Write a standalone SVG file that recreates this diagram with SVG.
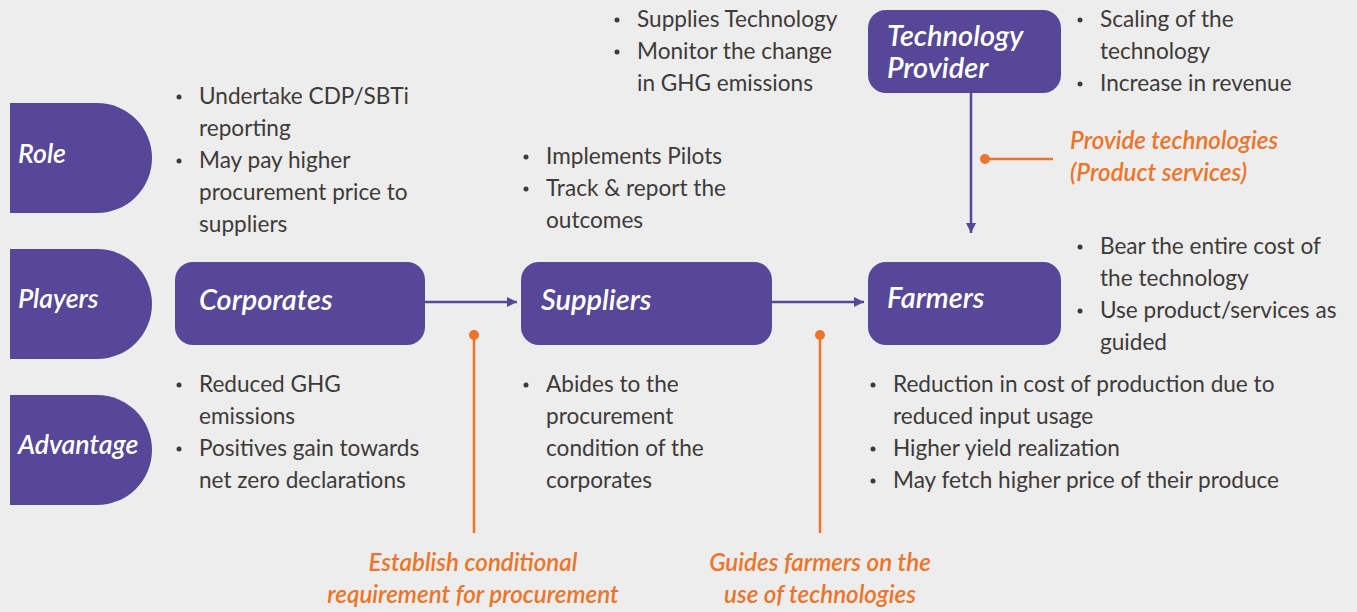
<svg xmlns="http://www.w3.org/2000/svg" width="1357" height="612" viewBox="0 0 1357 612">
<defs>
<style>
.tab{fill:#574798}
.node{fill:#574798}
.lbl{font-family:Lato,"Noto Sans",sans-serif;font-style:italic;font-weight:600;font-size:29px;fill:#ffffff}
.tl{font-family:Lato,"Noto Sans",sans-serif;font-style:italic;font-weight:600;font-size:26.7px;fill:#ffffff}
.tx{font-family:Lato,"Noto Sans",sans-serif;font-size:22.6px;fill:#3e3a39}
.bul{fill:#3e3a39}
.or{font-family:Lato,"Noto Sans",sans-serif;font-style:italic;font-weight:600;font-size:24.2px;fill:#EE7429}
.con{stroke:#574798;stroke-width:2.5;fill:none}
.oline{stroke:#EE7429;stroke-width:2.5;fill:none}
</style>
<marker id="ah" viewBox="0 0 10 10" refX="10" refY="5" markerWidth="4" markerHeight="4" orient="auto" markerUnits="strokeWidth">
<path d="M0,0 L10,5 L0,10 Z" fill="#574798"/>
</marker>
<marker id="dot" viewBox="0 0 10 10" refX="5" refY="5" markerWidth="4" markerHeight="4" markerUnits="strokeWidth">
<circle cx="5" cy="5" r="5" fill="#EE7429"/>
</marker>
</defs>
<rect x="0" y="0" width="1357" height="612" fill="#ECEDEC"/>

<g id="tab-role">
<path class="tab" d="M10,103 H97 A55,55 0 0 1 97,213 H10 Z"/>
<text class="tl" x="18" y="163">Role</text>
</g>
<g id="tab-players">
<path class="tab" d="M10,249 H97 A55,55 0 0 1 97,359 H10 Z"/>
<text class="tl" x="18" y="308">Players</text>
</g>
<g id="tab-advantage">
<path class="tab" d="M10,395 H97 A55,55 0 0 1 97,505 H10 Z"/>
<text class="tl" x="18" y="454">Advantage</text>
</g>

<g id="connectors">
<line class="con" x1="425" y1="302" x2="517" y2="302" marker-end="url(#ah)"/>
<line class="con" x1="772" y1="302" x2="864" y2="302" marker-end="url(#ah)"/>
<line class="con" x1="971" y1="93" x2="971" y2="233" marker-end="url(#ah)"/>
<line class="oline" x1="474" y1="335" x2="474" y2="533" marker-start="url(#dot)"/>
<line class="oline" x1="820" y1="335" x2="820" y2="533" marker-start="url(#dot)"/>
<line class="oline" x1="985" y1="159" x2="1053" y2="159" marker-start="url(#dot)"/>
</g>

<g id="node-corporates">
<rect class="node" x="175" y="262" width="250" height="83" rx="18"/>
<text class="lbl" x="199" y="310">Corporates</text>
</g>
<g id="node-suppliers">
<rect class="node" x="521" y="262" width="251" height="83" rx="18"/>
<text class="lbl" x="541" y="310">Suppliers</text>
</g>
<g id="node-farmers">
<rect class="node" x="868" y="262" width="193" height="83" rx="18"/>
<text class="lbl" x="887" y="308">Farmers</text>
</g>
<g id="node-technology-provider">
<rect class="node" x="868" y="10" width="193" height="83" rx="18"/>
<text class="lbl" x="887" y="46">Technology</text>
<text class="lbl" x="887" y="78">Provider</text>
</g>

<g id="text-corporates-role">
<circle class="bul" cx="179" cy="97" r="2.5"/>
<circle class="bul" cx="179" cy="161" r="2.5"/>
<text class="tx" x="199" y="104">Undertake CDP/SBTi</text>
<text class="tx" x="199" y="136">reporting</text>
<text class="tx" x="199" y="168">May pay higher</text>
<text class="tx" x="199" y="200">procurement price to</text>
<text class="tx" x="199" y="232">suppliers</text>
</g>
<g id="text-suppliers-role">
<circle class="bul" cx="526" cy="157" r="2.5"/>
<circle class="bul" cx="526" cy="189" r="2.5"/>
<text class="tx" x="546" y="164">Implements Pilots</text>
<text class="tx" x="546" y="196">Track &amp; report the</text>
<text class="tx" x="546" y="228">outcomes</text>
</g>
<g id="text-techprov-role">
<circle class="bul" cx="617" cy="20" r="2.5"/>
<circle class="bul" cx="617" cy="52" r="2.5"/>
<text class="tx" x="637" y="27">Supplies Technology</text>
<text class="tx" x="637" y="59">Monitor the change</text>
<text class="tx" x="637" y="91">in GHG emissions</text>
</g>
<g id="text-techprov-adv">
<circle class="bul" cx="1080" cy="20" r="2.5"/>
<circle class="bul" cx="1080" cy="84" r="2.5"/>
<text class="tx" x="1100" y="27">Scaling of the</text>
<text class="tx" x="1100" y="59">technology</text>
<text class="tx" x="1100" y="91">Increase in revenue</text>
</g>
<g id="text-farmers-role">
<circle class="bul" cx="1080" cy="247" r="2.5"/>
<circle class="bul" cx="1080" cy="311" r="2.5"/>
<text class="tx" x="1100" y="254">Bear the entire cost of</text>
<text class="tx" x="1100" y="286">the technology</text>
<text class="tx" x="1100" y="318">Use product/services as</text>
<text class="tx" x="1100" y="350">guided</text>
</g>
<g id="text-corporates-adv">
<circle class="bul" cx="179" cy="385" r="2.5"/>
<circle class="bul" cx="179" cy="449" r="2.5"/>
<text class="tx" x="199" y="392">Reduced GHG</text>
<text class="tx" x="199" y="424">emissions</text>
<text class="tx" x="199" y="456">Positives gain towards</text>
<text class="tx" x="199" y="488">net zero declarations</text>
</g>
<g id="text-suppliers-adv">
<circle class="bul" cx="526" cy="385" r="2.5"/>
<text class="tx" x="546" y="392">Abides to the</text>
<text class="tx" x="546" y="424">procurement</text>
<text class="tx" x="546" y="456">condition of the</text>
<text class="tx" x="546" y="488">corporates</text>
</g>
<g id="text-farmers-adv">
<circle class="bul" cx="873" cy="385" r="2.5"/>
<circle class="bul" cx="873" cy="449" r="2.5"/>
<circle class="bul" cx="873" cy="481" r="2.5"/>
<text class="tx" x="893" y="392">Reduction in cost of production due to</text>
<text class="tx" x="893" y="424">reduced input usage</text>
<text class="tx" x="893" y="456">Higher yield realization</text>
<text class="tx" x="893" y="488">May fetch higher price of their produce</text>
</g>

<g id="label-establish">
<text class="or" x="473" y="571" text-anchor="middle">Establish conditional</text>
<text class="or" x="473" y="603" text-anchor="middle">requirement for procurement</text>
</g>
<g id="label-guides">
<text class="or" x="820" y="571" text-anchor="middle">Guides farmers on the</text>
<text class="or" x="820" y="603" text-anchor="middle">use of technologies</text>
</g>
<g id="label-provide">
<text class="or" x="1070" y="149">Provide technologies</text>
<text class="or" x="1070" y="181">(Product services)</text>
</g>
</svg>
